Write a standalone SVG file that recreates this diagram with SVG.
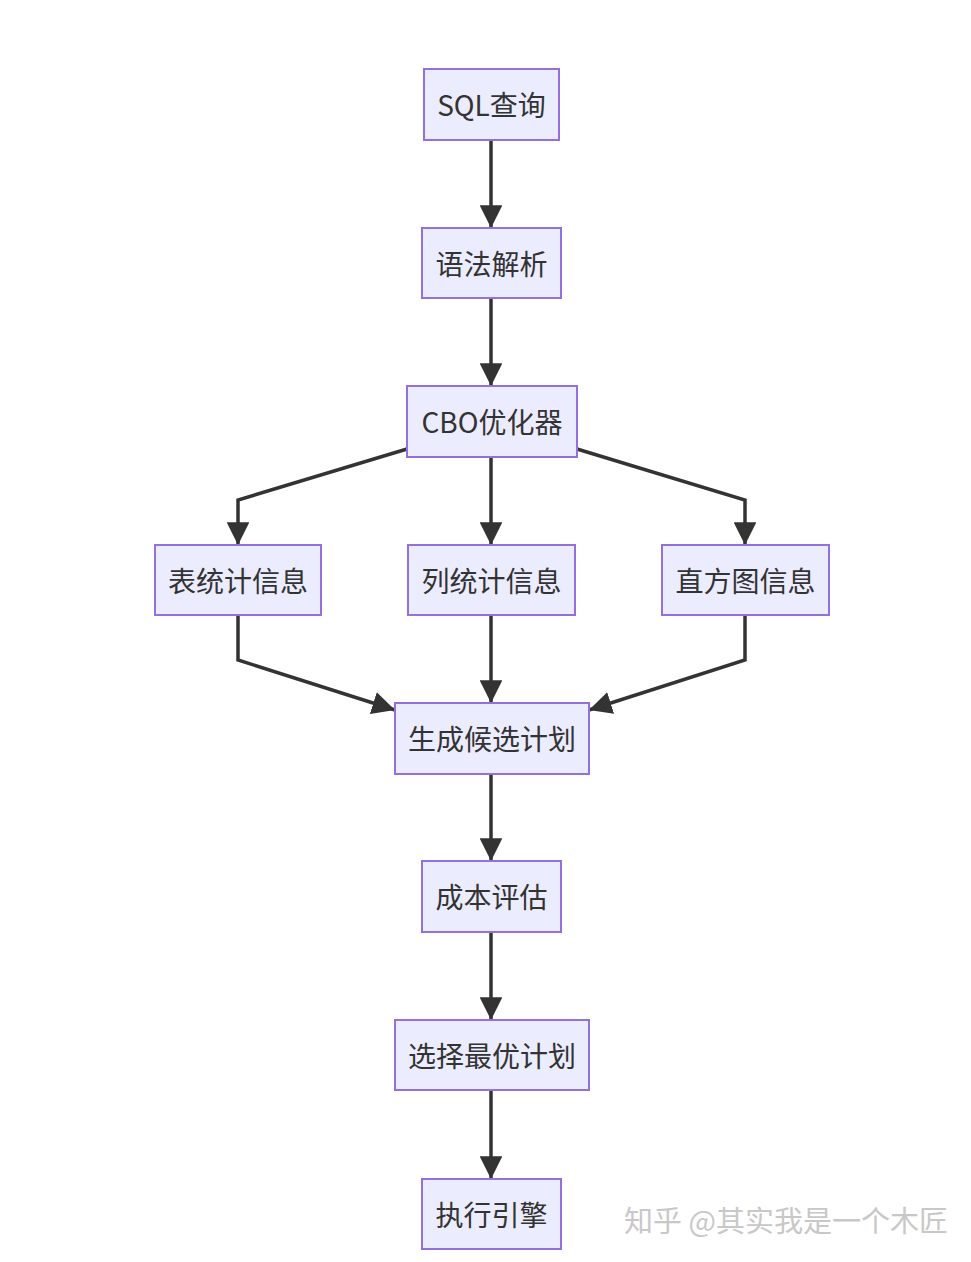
<svg xmlns="http://www.w3.org/2000/svg" width="971" height="1262" viewBox="0 0 971 1262">
<style>
.n rect{fill:#ECECFF;stroke:#9370DB;stroke-width:2}
.n text{font-family:"Noto Sans CJK SC","Liberation Sans",sans-serif;font-size:28px;fill:#333;text-anchor:middle;dominant-baseline:central}
.e path{fill:none;stroke:#333;stroke-width:3.5}
.wm{font-family:"Noto Sans CJK SC",sans-serif;font-size:29px;fill:#c8c8c8}
</style>
<defs>
<marker id="ah" viewBox="0 0 10 10" refX="10" refY="5" markerWidth="6.5" markerHeight="6.5" markerUnits="strokeWidth" orient="auto">
<path d="M0,0 L10,5 L0,10 z" fill="#333"/>
</marker>
</defs>
<rect width="971" height="1262" fill="#fff"/>
<g class="e">
<path d="M491,140 V228" marker-end="url(#ah)"/>
<path d="M491,298 V386" marker-end="url(#ah)"/>
<path d="M407,449 L238,500 V545" marker-end="url(#ah)"/>
<path d="M491,457 V545" marker-end="url(#ah)"/>
<path d="M577,449 L745,500 V545" marker-end="url(#ah)"/>
<path d="M238,615 V660 L395,710" marker-end="url(#ah)"/>
<path d="M491,615 V703" marker-end="url(#ah)"/>
<path d="M745,615 V660 L589,710" marker-end="url(#ah)"/>
<path d="M491,774 V861" marker-end="url(#ah)"/>
<path d="M491,932 V1020" marker-end="url(#ah)"/>
<path d="M491,1090 V1179" marker-end="url(#ah)"/>
</g>
<g id="n1" class="n"><rect x="424" y="69" width="135" height="71"/><text x="491.5" y="104">SQL查询</text></g>
<g id="n2" class="n"><rect x="422" y="228" width="139" height="70"/><text x="491.5" y="262.5">语法解析</text></g>
<g id="n3" class="n"><rect x="407" y="386" width="170" height="71"/><text x="492" y="421">CBO优化器</text></g>
<g id="n4" class="n"><rect x="155" y="545" width="166" height="70"/><text x="238" y="579.5">表统计信息</text></g>
<g id="n5" class="n"><rect x="408" y="545" width="167" height="70"/><text x="491.5" y="579.5">列统计信息</text></g>
<g id="n6" class="n"><rect x="662" y="545" width="167" height="70"/><text x="745.5" y="579.5">直方图信息</text></g>
<g id="n7" class="n"><rect x="395" y="703" width="194" height="71"/><text x="492" y="738">生成候选计划</text></g>
<g id="n8" class="n"><rect x="422" y="861" width="139" height="71"/><text x="491.5" y="896">成本评估</text></g>
<g id="n9" class="n"><rect x="395" y="1020" width="194" height="70"/><text x="492" y="1054.5">选择最优计划</text></g>
<g id="n10" class="n"><rect x="422" y="1179" width="139" height="70"/><text x="491.5" y="1213.5">执行引擎</text></g>
<text class="wm" x="624" y="1232">知乎 @其实我是一个木匠</text>
</svg>
